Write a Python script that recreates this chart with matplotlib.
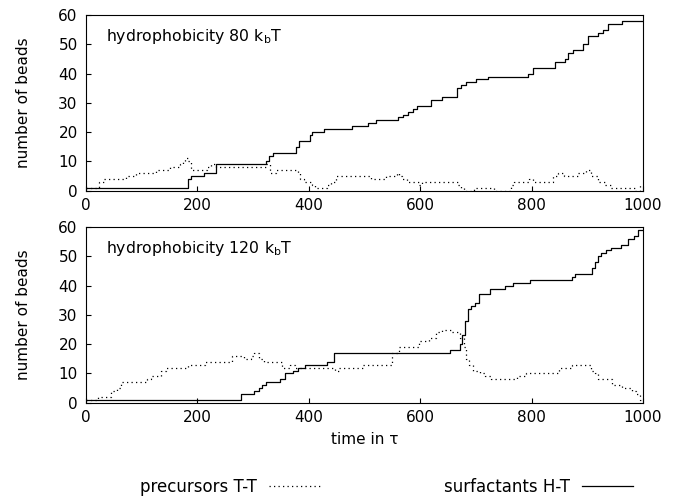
import matplotlib
matplotlib.use("Agg")
import matplotlib.pyplot as plt
from matplotlib.lines import Line2D

plt.rcParams['font.family'] = ['DejaVu Sans']
plt.rcParams['font.size'] = 11
plt.rcParams['mathtext.fontset'] = 'dejavusans'

# ---------------- data ----------------
# hydrophobicity 80 kbT
t80_surf = [0, 183, 189, 212, 233, 323, 328, 336, 377, 383, 402, 406, 427, 477, 507,
            521, 561, 569, 578, 587, 595, 620, 639, 666, 673, 682, 700, 721, 793, 803,
            842, 860, 866, 875, 893, 902, 920, 929, 938, 962, 1000]
n80_surf = [1, 4, 5, 6, 9, 10, 12, 13, 15, 17, 19, 20, 21, 22, 23,
            24, 25, 26, 27, 28, 29, 31, 32, 35, 36, 37, 38, 39, 40, 42,
            44, 45, 47, 48, 50, 53, 54, 55, 57, 58, 58]

t80_prec = [0, 24, 33, 72, 90, 126, 150, 168, 174, 178, 183, 188, 218, 224, 233,
            323, 330, 342, 380, 384, 392, 406, 412, 433, 439, 448, 511, 538, 558, 562,
            568, 577, 598, 604, 625, 667, 673, 679, 697, 733, 763, 769, 796, 802, 838,
            847, 859, 883, 898, 907, 919, 931, 943, 985, 995, 1000]
n80_prec = [1, 3, 4, 5, 6, 7, 8, 9, 10, 11, 10, 7, 8, 9, 8,
            9, 6, 7, 6, 4, 3, 2, 1, 2, 3, 5, 4, 5, 6, 5,
            4, 3, 2, 3, 3, 2, 1, 0, 1, 0, 2, 3, 4, 3, 5,
            6, 5, 6, 7, 5, 3, 2, 1, 0, 2, 2]

# hydrophobicity 120 kbT
t120_surf = [0, 278, 302, 311, 316, 323, 348, 357, 372, 381, 393, 432, 446, 653, 671,
             675, 680, 685, 692, 698, 706, 725, 752, 767, 797, 872, 878, 908, 914, 920,
             925, 934, 943, 960, 973, 984, 991, 1000]
n120_surf = [1, 3, 4, 5, 6, 7, 8, 10, 11, 12, 13, 14, 17, 18, 20,
             23, 28, 32, 33, 34, 37, 39, 40, 41, 42, 43, 44, 46, 48, 50,
             51, 52, 53, 54, 56, 57, 59, 59]

t120_prec = [0, 21, 45, 55, 63, 110, 117, 135, 144, 183, 213, 263, 283, 297, 302,
             310, 320, 352, 366, 376, 447, 455, 498, 550, 562, 597, 616, 628, 639, 657,
             672, 678, 683, 688, 695, 707, 716, 728, 773, 790, 850, 872, 906, 914, 920,
             944, 962, 980, 988, 995, 1000]
n120_prec = [1, 2, 4, 5, 7, 8, 9, 11, 12, 13, 14, 16, 15, 16, 17,
             15, 14, 12, 13, 12, 11, 12, 13, 17, 19, 21, 22, 24, 25, 24,
             22, 19, 15, 13, 11, 10, 9, 8, 9, 10, 12, 13, 11, 10, 8,
             6, 5, 4, 3, 1, 1]

panels = [
    ("hydrophobicity 80 k$_{\\rm b}$T", t80_prec, n80_prec, t80_surf, n80_surf),
    ("hydrophobicity 120 k$_{\\rm b}$T", t120_prec, n120_prec, t120_surf, n120_surf),
]

fig = plt.figure(figsize=(6.82, 4.97), dpi=100)
boxes = [[0.1261, 0.6163, 0.8167, 0.3535], [0.1261, 0.1897, 0.8167, 0.3535]]

dotted = (0, (1.0, 2.6))
for box, (title, tp, npr, ts, ns) in zip(boxes, panels):
    ax = fig.add_axes(box)
    ax.plot(tp, npr, color='black', lw=0.9, ls=dotted, drawstyle='steps-post')
    ax.plot(ts, ns, color='black', lw=0.9, drawstyle='steps-post')
    ax.set_xlim(0, 1000)
    ax.set_ylim(0, 60)
    ax.set_xticks(range(0, 1001, 200))
    ax.set_yticks(range(0, 61, 10))
    ax.tick_params(direction='in', length=3.6, width=0.8, top=False, right=False,
                   labelsize=11)
    ax.tick_params(axis='x', pad=5)
    ax.tick_params(axis='y', pad=6)
    for s in ax.spines.values():
        s.set_linewidth(0.8)
    ax.set_ylabel("number of beads", labelpad=20)
    ax.text(0.036, 0.93, title, transform=ax.transAxes, ha='left', va='top', fontsize=11.3)

ax.set_xlabel("time in τ", labelpad=5)

handles = [Line2D([], [], color='black', lw=0.9, ls=dotted),
           Line2D([], [], color='black', lw=0.9)]
fig.legend(handles, ["precursors T-T", "surfactants H-T"], ncol=2, markerfirst=False,
           frameon=False, loc='center', bbox_to_anchor=(0.567, 0.02),
           handlelength=3.1, handletextpad=0.72, columnspacing=7.4, fontsize=12,
           borderpad=0, borderaxespad=0)

fig.savefig("out.png", dpi=100)
